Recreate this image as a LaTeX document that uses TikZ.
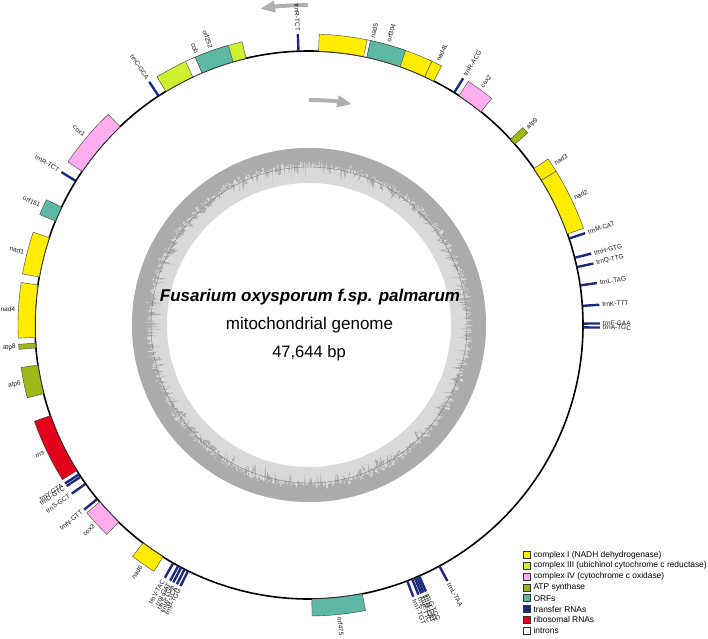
\documentclass[tikz,border=0pt]{standalone}
\usepackage{fontspec}
\setmainfont{Liberation Sans}
\usetikzlibrary{arrows.meta}
\definecolor{cI}{HTML}{FFEC00}
\definecolor{cIII}{HTML}{CFF030}
\definecolor{cIV}{HTML}{FFADEF}
\definecolor{catp}{HTML}{9BBA17}
\definecolor{corf}{HTML}{5DB9A3}
\definecolor{ctrn}{HTML}{1C2A80}
\definecolor{crrn}{HTML}{E2001A}
\definecolor{gclight}{HTML}{D9D9D9}
\definecolor{gcdark}{HTML}{ABABAB}
\definecolor{arrowgray}{HTML}{B0B0B0}
\newcommand\gbox[3]{\filldraw[genebox, fill=#3] (#1:274) arc[start angle=#1,end angle=#2,radius=274] -- (#2:291) arc[start angle=#2,end angle=#1,radius=291] -- cycle;}
\newcommand\trnaline[1]{\draw[trnastyle] (#1:274.5) -- (#1:291);}
\newcommand\labR[3]{\node[lbl, rotate=#2, anchor=west] (#1) at (#2:294) {#3};}
\newcommand\labL[3]{\node[lbl, rotate=#2-180, anchor=east] (#1) at (#2:294) {#3};}
\begin{document}
\begin{tikzpicture}[x=1pt,y=1pt,
  genebox/.style={draw=black!75, line width=0.4pt},
  trnastyle/.style={draw=ctrn, line width=2.4pt},
  lbl/.style={font=\fontsize{6.5}{7}\selectfont, inner sep=0pt, text=black!90},
  garrow/.style={draw=arrowgray, line width=4pt, -{Triangle[width=11pt,length=15pt]}},
  legbox/.style={draw=black!80, line width=0.5pt, minimum size=7pt, inner sep=0pt},
  legtxt/.style={font=\fontsize{8.4}{9}\selectfont, anchor=west, inner sep=0pt},
  title/.style={font=\fontsize{17}{19}\selectfont, anchor=base}]
\useasboundingbox (-309,-313) rectangle (399,325);
% GC content ring
\pgfmathsetseed{4711}
\fill[gclight, even odd rule] (0,0) circle (177) (0,0) circle (142);
\fill[gcdark, even odd rule] (0,0) circle (177)
  plot[domain=0:359.85, samples=2400, variable=\t] (\t:{166-8*rnd-13*pow(rnd,4)}) -- cycle;
\draw[gcdark!65!black, line width=0.3pt] (0,0) circle (158);
% main circle
\draw[black, line width=1.6pt] (0,0) circle (274);
% direction arrows
\draw[garrow] (90.2:320) arc[start angle=90.2, end angle=98.8, radius=320];
\draw[garrow] (90:225) arc[start angle=90, end angle=78.9, radius=225];
% genes
\gbox{88}{65}{cI}
\gbox{78.5}{77.8}{white}
\gbox{77.8}{70.6}{corf}
\gbox{65}{62.9}{cI}
\gbox{56.8}{51.1}{cIV}
\gbox{42.7}{41.3}{catp}
\gbox{34.8}{31.9}{cI}
\gbox{31.9}{19.4}{cI}
\gbox{281.2}{270.6}{corf}
\gbox{237.8}{232.7}{cI}
\gbox{226.0}{220.2}{cIV}
\gbox{212.1}{199.3}{crrn}
\gbox{194.5}{188.4}{catp}
\gbox{184.8}{183.8}{catp}
\gbox{182.6}{171.6}{cI}
\gbox{169.9}{161.4}{cI}
\gbox{157.7}{154.5}{corf}
\gbox{145.9}{133.6}{cIV}
\gbox{121.5}{103.3}{cIII}
\gbox{115.1}{113.0}{white}
\gbox{113.0}{106.1}{corf}
% tRNAs
\trnaline{92.2}
\trnaline{58.0}
\trnaline{18.4}
\trnaline{14.2}
\trnaline{12.2}
\trnaline{8.3}
\trnaline{4.0}
\trnaline{0.3}
\trnaline{-0.5}
\trnaline{298.4}
\trnaline{291.0}
\trnaline{292.1}
\trnaline{292.7}
\trnaline{293.2}
\trnaline{293.7}
\trnaline{240.3}
\trnaline{241.5}
\trnaline{242.2}
\trnaline{243.0}
\trnaline{243.8}
\trnaline{219.4}
\trnaline{215.4}
\trnaline{213.0}
\trnaline{213.6}
\trnaline{148.3}
\trnaline{123.3}
% labels right half
\labR{l1}{77.5}{nad5}
\labR{l2}{74.3}{orf304}
\labR{l3}{64.0}{nad4L}
\labR{l4}{58.0}{trnR-ACG}
\labR{l5}{54.0}{cox2}
\labR{l6}{42.0}{atp9}
\labR{l7}{33.3}{nad3}
\labR{l8}{25.6}{nad2}
\labR{l9}{18.4}{trnM-CAT}
\labR{l10}{14.2}{trnH-GTG}
\labR{l11}{12.2}{trnQ-TTG}
\labR{l12}{8.3}{trnL-TAG}
\labR{l13}{4.0}{trnK-TTT}
\labR{l14}{0.3}{trnF-GAA}
\labR{l15}{-0.5}{trnA-TGC}
\labR{l16}{298.4}{trnL-TAA}
\labR{l17}{291.0}{trnT-TGT}
\labR{l18}{292.1}{trnE-TTC}
\labR{l19}{292.7}{trnM-CAT}
\labR{l20}{293.2}{trnM-CAT}
\labR{l21}{293.7}{trnG-TCC}
\labR{l22}{276.0}{orf475}
% labels left half
\labL{l23}{243.8}{trnP-TGG}
\labL{l24}{243.0}{trnW-TCA}
\labL{l25}{242.2}{trnS-TGA}
\labL{l26}{241.5}{trnI-GAT}
\labL{l27}{240.3}{trnV-TAC}
\labL{l28}{235.2}{nad6}
\labL{l29}{223.0}{cox3}
\labL{l30}{219.4}{trnN-GTT}
\labL{l31}{215.4}{trnS-GCT}
\labL{l32}{213.6}{trnD-GTC}
\labL{l33}{213.0}{trnY-GTA}
\labL{l34}{205.7}{rns}
\labL{l35}{191.4}{atp6}
\labL{l36}{184.3}{atp8}
\labL{l37}{177.0}{nad4}
\labL{l38}{165.6}{nad1}
\labL{l39}{156.0}{orf151}
\labL{l40}{148.3}{trnR-TCT}
\labL{l41}{139.8}{cox1}
\labL{l42}{123.3}{trnC-GCA}
\labL{l43}{112.4}{cob}
\labL{l44}{109.5}{orf292}
\labL{l45}{92.2}{trnR-TCT}
% central title
\node[title] (t1) at (1,24) {\bfseries\itshape Fusarium oxysporum f.sp. palmarum};
\node[title] (t2) at (0.5,-4.3) {mitochondrial genome};
\node[title, font=\fontsize{16.5}{18}\selectfont] (t3) at (0,-32.7) {47,644 bp};
% legend
\node[legbox, fill=cI]   (k1) at (217.3,-230.0) {};
\node[legbox, fill=cIII] (k2) at (217.3,-240.8) {};
\node[legbox, fill=cIV]  (k3) at (217.3,-251.6) {};
\node[legbox, fill=catp] (k4) at (217.3,-262.4) {};
\node[legbox, fill=corf] (k5) at (217.3,-273.2) {};
\node[legbox, fill=ctrn] (k6) at (217.3,-284.0) {};
\node[legbox, fill=crrn] (k7) at (217.3,-294.8) {};
\node[legbox, fill=white](k8) at (217.3,-305.6) {};
\node[legtxt] (kt1) at (224.3,-230.0) {complex I (NADH dehydrogenase)};
\node[legtxt] (kt2) at (224.3,-240.8) {complex III (ubichinol cytochrome c reductase)};
\node[legtxt] (kt3) at (224.3,-251.6) {complex IV (cytochrome c oxidase)};
\node[legtxt] (kt4) at (224.3,-262.4) {ATP synthase};
\node[legtxt] (kt5) at (224.3,-273.2) {ORFs};
\node[legtxt] (kt6) at (224.3,-284.0) {transfer RNAs};
\node[legtxt] (kt7) at (224.3,-294.8) {ribosomal RNAs};
\node[legtxt] (kt8) at (224.3,-305.6) {introns};
\end{tikzpicture}
\end{document}
